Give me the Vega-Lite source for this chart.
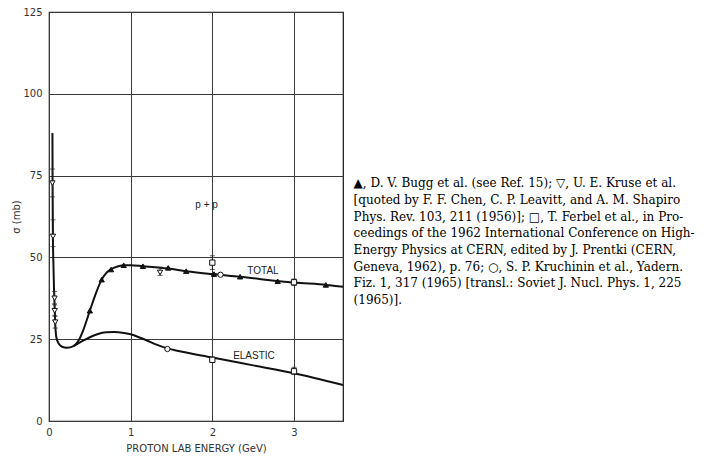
{
  "$schema": "https://vega.github.io/schema/vega-lite/v6.json",
  "width": 294,
  "height": 409,
  "autosize": {"type": "none"},
  "padding": {"left": 49, "top": 12, "right": 375, "bottom": 38},
  "background": "white",
  "config": {
    "view": {"stroke": "#111", "strokeWidth": 1.2},
    "axis": {
      "grid": true,
      "gridColor": "#3a3a3a",
      "gridWidth": 1,
      "domain": false,
      "ticks": false,
      "tickSize": 0,
      "labelFlush": false,
      "labelFont": "DejaVu Sans",
      "labelFontSize": 10,
      "labelColor": "#333",
      "titleFont": "DejaVu Sans",
      "titleFontSize": 10,
      "titleFontWeight": "normal",
      "titleColor": "#333"
    }
  },
  "datasets": {
    "curves": [
      {"series": "total", "E": 0.042, "sigma": 88},
      {"series": "total", "E": 0.044, "sigma": 72},
      {"series": "total", "E": 0.048, "sigma": 56},
      {"series": "total", "E": 0.052, "sigma": 50},
      {"series": "total", "E": 0.062, "sigma": 40},
      {"series": "total", "E": 0.07, "sigma": 34},
      {"series": "total", "E": 0.078, "sigma": 29},
      {"series": "total", "E": 0.09, "sigma": 25.6},
      {"series": "total", "E": 0.12, "sigma": 23.6},
      {"series": "total", "E": 0.16, "sigma": 22.7},
      {"series": "total", "E": 0.22, "sigma": 22.4},
      {"series": "total", "E": 0.3, "sigma": 22.9},
      {"series": "total", "E": 0.36, "sigma": 24.5},
      {"series": "total", "E": 0.42, "sigma": 27.8},
      {"series": "total", "E": 0.5, "sigma": 33.7},
      {"series": "total", "E": 0.58, "sigma": 39.4},
      {"series": "total", "E": 0.645, "sigma": 43.2},
      {"series": "total", "E": 0.7, "sigma": 45.2},
      {"series": "total", "E": 0.76, "sigma": 46.4},
      {"series": "total", "E": 0.85, "sigma": 47.3},
      {"series": "total", "E": 0.92, "sigma": 47.6},
      {"series": "total", "E": 1.0, "sigma": 47.6},
      {"series": "total", "E": 1.15, "sigma": 47.3},
      {"series": "total", "E": 1.46, "sigma": 46.6},
      {"series": "total", "E": 1.68, "sigma": 45.8},
      {"series": "total", "E": 2.0, "sigma": 44.9},
      {"series": "total", "E": 2.34, "sigma": 44.1},
      {"series": "total", "E": 2.8, "sigma": 42.8},
      {"series": "total", "E": 3.0, "sigma": 42.3},
      {"series": "total", "E": 3.4, "sigma": 41.6},
      {"series": "total", "E": 3.6, "sigma": 41.0},
      {"series": "elastic", "E": 0.3, "sigma": 22.9},
      {"series": "elastic", "E": 0.4, "sigma": 24.3},
      {"series": "elastic", "E": 0.5, "sigma": 25.6},
      {"series": "elastic", "E": 0.6, "sigma": 26.6},
      {"series": "elastic", "E": 0.7, "sigma": 27.1},
      {"series": "elastic", "E": 0.8, "sigma": 27.2},
      {"series": "elastic", "E": 0.9, "sigma": 27.0},
      {"series": "elastic", "E": 1.0, "sigma": 26.5},
      {"series": "elastic", "E": 1.1, "sigma": 25.6},
      {"series": "elastic", "E": 1.2, "sigma": 24.6},
      {"series": "elastic", "E": 1.3, "sigma": 23.5},
      {"series": "elastic", "E": 1.45, "sigma": 22.2},
      {"series": "elastic", "E": 1.6, "sigma": 21.3},
      {"series": "elastic", "E": 2.0, "sigma": 19.4},
      {"series": "elastic", "E": 2.5, "sigma": 17.0},
      {"series": "elastic", "E": 3.0, "sigma": 14.6},
      {"series": "elastic", "E": 3.6, "sigma": 11.0}
    ],
    "points": [
      {"source": "Bugg", "E": 0.5, "sigma": 33.7},
      {"source": "Bugg", "E": 0.645, "sigma": 43.2},
      {"source": "Bugg", "E": 0.76, "sigma": 46.3},
      {"source": "Bugg", "E": 0.915, "sigma": 47.6},
      {"source": "Bugg", "E": 1.15, "sigma": 47.3},
      {"source": "Bugg", "E": 1.46, "sigma": 46.8},
      {"source": "Bugg", "E": 1.68, "sigma": 45.8},
      {"source": "Bugg", "E": 2.02, "sigma": 44.9},
      {"source": "Bugg", "E": 2.34, "sigma": 44.1},
      {"source": "Bugg", "E": 2.8, "sigma": 42.7},
      {"source": "Bugg", "E": 3.39, "sigma": 41.6},
      {"source": "Kruse", "E": 0.042, "sigma": 72.7, "lo": 68.5, "hi": 77},
      {"source": "Kruse", "E": 0.049, "sigma": 56.4, "lo": 53.3, "hi": 61.5},
      {"source": "Kruse", "E": 0.068, "sigma": 37.5, "lo": 35.8, "hi": 39.6},
      {"source": "Kruse", "E": 0.07, "sigma": 33.7, "lo": 32.2, "hi": 35.5},
      {"source": "Kruse", "E": 0.076, "sigma": 30.2, "lo": 28.4, "hi": 32},
      {"source": "Kruse", "E": 1.36, "sigma": 45.4, "lo": 44.5, "hi": 47},
      {"source": "Ferbel", "E": 2.0, "sigma": 48.4, "lo": 46.3, "hi": 50.5},
      {"source": "Ferbel", "E": 3.0, "sigma": 42.4, "lo": 41.4, "hi": 43.4},
      {"source": "Ferbel", "E": 2.0, "sigma": 18.7, "lo": 18.0, "hi": 19.5},
      {"source": "Ferbel", "E": 3.0, "sigma": 15.2, "lo": 14.2, "hi": 16.4},
      {"source": "Kruchinin", "E": 2.1, "sigma": 44.7},
      {"source": "Kruchinin", "E": 1.45, "sigma": 22.0}
    ],
    "labels": [
      {"label": "TOTAL", "E": 2.62, "sigma": 45.8},
      {"label": "ELASTIC", "E": 2.51, "sigma": 19.9},
      {"label": "p + p", "E": 1.93, "sigma": 66.1}
    ],
    "notes": [
      {"text": "▲, D. V. Bugg et al. (see Ref. 15); ▽, U. E. Kruse et al.\n[quoted by F. F. Chen, C. P. Leavitt, and A. M. Shapiro\nPhys. Rev. 103, 211 (1956)]; □, T. Ferbel et al., in Pro-\nceedings of the 1962 International Conference on High-\nEnergy Physics at CERN, edited by J. Prentki (CERN,\nGeneva, 1962), p. 76; ○, S. P. Kruchinin et al., Yadern.\nFiz. 1, 317 (1965) [transl.: Soviet J. Nucl. Phys. 1, 225\n(1965)]."}
    ]
  },
  "layer": [
    {
      "data": {"name": "curves"},
      "mark": {"type": "line", "interpolate": "monotone", "color": "#111", "strokeWidth": 2},
      "encoding": {
        "x": {"field": "E", "type": "quantitative", "scale": {"domain": [0, 3.6], "nice": false},
          "axis": {"values": [0, 1, 2, 3], "format": "d", "title": "PROTON LAB ENERGY (GeV)", "labelPadding": 6, "titlePadding": 6}},
        "y": {"field": "sigma", "type": "quantitative", "scale": {"domain": [0, 125], "nice": false},
          "axis": {"values": [0, 25, 50, 75, 100, 125], "format": "d", "title": "σ (mb)", "labelPadding": 7, "titlePadding": 1}},
        "detail": {"field": "series"}
      }
    },
    {
      "data": {"name": "points"},
      "transform": [{"filter": "isValid(datum.lo)"}],
      "mark": {"type": "rule", "color": "#222", "strokeWidth": 0.9},
      "encoding": {
        "x": {"field": "E", "type": "quantitative"},
        "y": {"field": "lo", "type": "quantitative"},
        "y2": {"field": "hi"}
      }
    },
    {
      "data": {"name": "points"},
      "transform": [{"filter": "isValid(datum.lo)"}, {"fold": ["lo", "hi"], "as": ["end", "val"]}],
      "mark": {"type": "tick", "color": "#222", "orient": "horizontal", "size": 5, "thickness": 1},
      "encoding": {
        "x": {"field": "E", "type": "quantitative"},
        "y": {"field": "val", "type": "quantitative"}
      }
    },
    {
      "data": {"name": "points"},
      "mark": {"type": "point", "filled": false, "strokeWidth": 1, "opacity": 1},
      "encoding": {
        "x": {"field": "E", "type": "quantitative"},
        "y": {"field": "sigma", "type": "quantitative"},
        "shape": {"field": "source", "type": "nominal", "legend": null,
          "scale": {"domain": ["Bugg", "Kruse", "Ferbel", "Kruchinin"], "range": ["triangle-up", "triangle-down", "square", "circle"]}},
        "fill": {"field": "source", "type": "nominal", "legend": null,
          "scale": {"domain": ["Bugg", "Kruse", "Ferbel", "Kruchinin"], "range": ["#111", "white", "white", "white"]}},
        "stroke": {"value": "#111"},
        "size": {"value": 28}
      }
    },
    {
      "data": {"name": "labels"},
      "mark": {"type": "text", "font": "Liberation Sans", "fontSize": 10, "color": "#222", "align": "center", "baseline": "middle"},
      "encoding": {
        "x": {"field": "E", "type": "quantitative"},
        "y": {"field": "sigma", "type": "quantitative"},
        "text": {"field": "label"}
      }
    },
    {
      "data": {"name": "notes"},
      "mark": {"type": "text", "font": "DejaVu Serif", "fontSize": 12, "color": "#000", "align": "left", "baseline": "top", "lineBreak": "\n", "lineHeight": 16.7},
      "encoding": {
        "x": {"datum": 3.73},
        "y": {"datum": 74.2},
        "text": {"field": "text"}
      }
    }
  ]
}
